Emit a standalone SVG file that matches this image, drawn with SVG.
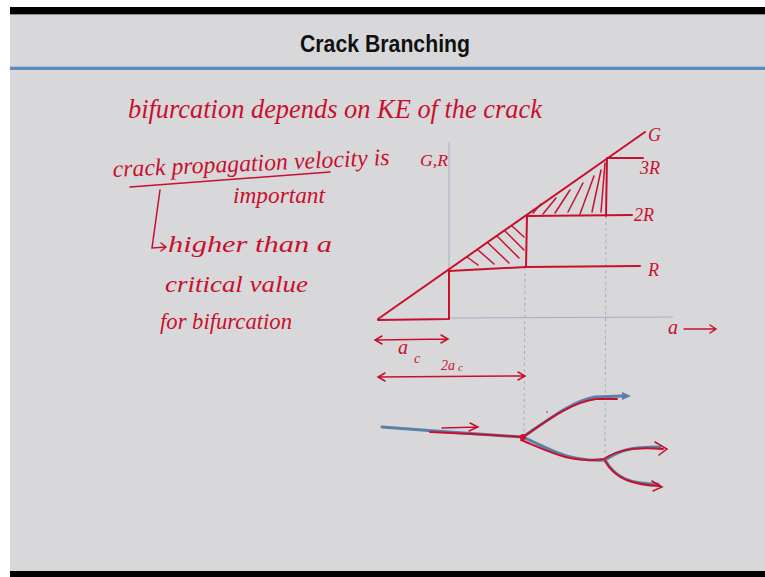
<svg xmlns="http://www.w3.org/2000/svg" width="765" height="577" viewBox="0 0 765 577">
<style>
.hw{font-family:"Liberation Serif",serif;font-style:italic;fill:#c8102e}
.red{fill:none;stroke:#c8102e;stroke-width:2;stroke-linecap:round;stroke-linejoin:round}
.thin{fill:none;stroke:#c8102e;stroke-width:1.5;stroke-linecap:round}
.axis{fill:none;stroke:#9fb0c4;stroke-width:1}
.dash{fill:none;stroke:#9fb0c4;stroke-width:1;stroke-dasharray:3 3}
.blue{fill:none;stroke:#5a7fa8;stroke-width:3;stroke-linecap:round}
</style>
<rect x="0" y="0" width="765" height="577" fill="#ffffff"/>
<rect x="10" y="7" width="755" height="570" fill="#d8d8da"/>
<rect x="10" y="7" width="755" height="7" fill="#000"/>
<rect x="10" y="14" width="755" height="1" fill="#8a8a8a"/>
<rect x="10" y="571" width="755" height="6" fill="#000"/>
<rect x="10" y="66" width="755" height="4" fill="#5b8cbf"/>
<rect x="10" y="66" width="755" height="1" fill="#a9c0da"/>
<text x="385" y="52" text-anchor="middle" font-family="Liberation Sans,Arial,sans-serif" font-weight="bold" font-size="24" textLength="170" lengthAdjust="spacingAndGlyphs" fill="#111">Crack Branching</text>

<!-- left notes -->
<text class="hw" x="128" y="118" font-size="27" textLength="414" lengthAdjust="spacingAndGlyphs">bifurcation depends on KE of the crack</text>
<text class="hw" x="113" y="177" font-size="24" textLength="277" lengthAdjust="spacingAndGlyphs" transform="rotate(-2.5 113 177)">crack propagation velocity is</text>
<path class="thin" d="M130,187 L330,172"/>
<text class="hw" x="420" y="166" font-size="16" textLength="28" lengthAdjust="spacingAndGlyphs">G,R</text>
<text class="hw" x="233" y="203" font-size="23" textLength="92" lengthAdjust="spacingAndGlyphs">important</text>
<path class="thin" d="M160,190 L152,248 L166,247 M161,243 L166,247 L161,251"/>
<text class="hw" x="168" y="252" font-size="23" textLength="164" lengthAdjust="spacingAndGlyphs">higher than a</text>
<text class="hw" x="165" y="292" font-size="23" textLength="143" lengthAdjust="spacingAndGlyphs">critical value</text>
<text class="hw" x="160" y="329" font-size="23" textLength="132" lengthAdjust="spacingAndGlyphs">for bifurcation</text>

<!-- graph -->
<g id="graph">
<path class="axis" d="M449,142 L449,320 M449,318 L673,317"/>
<path class="dash" d="M525,267 L524,442 M606,216 L605,462"/>
<path class="red" d="M378,319 L645,132"/>
<path class="red" d="M378,320 L449,319 L449,271 L526,267 L640,266"/>
<path class="red" d="M526,267 L527,216 L632,215"/>
<path class="red" d="M606,216 L607,158 L643,158"/>
<!-- hatching -->
<path class="thin" d="M467,257 L478,265 M478,250 L494,264 M488,243 L509,263 M497,236 L519,258 M505,231 L524,250 M512,226 L524,237"/>
<path class="thin" d="M533,213 L541,204 M543,214 L556,198 M555,213 L570,190 M568,212 L583,183 M580,214 L594,176 M592,212 L601,170 M601,212 L605,163"/>
<text class="hw" x="648" y="141" font-size="18">G</text>
<text class="hw" x="640" y="174" font-size="18">3R</text>
<text class="hw" x="634" y="221" font-size="18">2R</text>
<text class="hw" x="648" y="276" font-size="18">R</text>
<text class="hw" x="668" y="334" font-size="20">a</text>
<path class="thin" d="M684,329 L716,329 M710,325 L716,329 L710,333"/>
</g>

<!-- dimension arrows -->
<path class="thin" d="M375,340 L448,339 M382,336 L375,340 L382,344 M441,335 L448,339 L441,343"/>
<text class="hw" x="398" y="354" font-size="20">a</text>
<text class="hw" x="414" y="363" font-size="14">c</text>
<path class="thin" d="M378,377 L525,376 M385,373 L378,377 L385,381 M518,372 L525,376 L518,380"/>
<text class="hw" x="441" y="370" font-size="14">2a</text>
<text class="hw" x="458" y="371" font-size="11">c</text>

<!-- crack -->
<g id="crack">
<path class="blue" d="M382,427 Q460,433 523,437"/>
<path class="blue" d="M523,437 C548,420 570,402 595,397 L622,396"/>
<path class="blue" d="M523,437 C550,450 570,462 605,460"/>
<path class="blue" d="M605,460 C620,450 630,447 660,447"/>
<path class="blue" d="M605,460 C615,478 630,484 658,484"/>
<path fill="#5a7fa8" d="M622,392 L631,396 L622,400 Z"/>
<path class="red" d="M430,432 Q480,434 521,437 M523,437 C548,420 572,402 596,399 L617,399"/>
<path class="red" d="M521,440 C550,452 572,464 604,459 C620,448 640,447 663,449 M605,461 C616,480 635,485 660,486"/>
<path class="thin" d="M442,428 L478,427 M470,423 L478,427 L469,431"/>
<path class="thin" d="M655,442 L667,449 L659,455 M652,481 L662,487 L653,491"/>
<circle cx="523" cy="437" r="3" fill="#c8102e"/>
<circle cx="547" cy="412" r="0.8" fill="#c8102e"/>
</g>
</svg>
